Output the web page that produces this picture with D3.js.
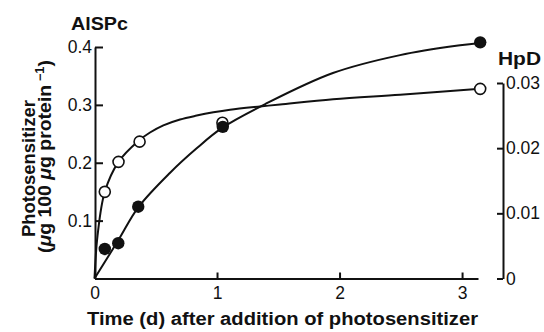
<!DOCTYPE html>
<html>
<head>
<meta charset="utf-8">
<script src="https://d3js.org/d3.v7.min.js"></script>
<style>
  body { margin: 0; background: #fff; }
  svg { display: block; font-family: 'Liberation Sans', Arial, sans-serif; }
  .axis path, .axis line { stroke: #111; stroke-width: 2; }
  .axis text { font-size: 17.5px; fill: #111; }
  .title { font-weight: bold; fill: #111; }
</style>
</head>
<body>
<div id="chart"></div>
<script>
// time after addition (d)
var xTicks = [0, 1, 2, 3];
var leftTicks = [0.1, 0.2, 0.3, 0.4];
var rightTicks = [0, 0.01, 0.02, 0.03];

// AlSPc, filled circles, left axis
var alspcTime = [0.084, 0.194, 0.357, 1.047, 3.148];
var alspcVal  = [0.051, 0.061, 0.124, 0.262, 0.408];
// fitted curve
var alspcFitTime = [0, 0.194, 0.357, 0.613, 0.834, 1.047, 1.39, 1.946, 2.494, 2.984, 3.148];
var alspcFitVal  = [0, 0.066, 0.123, 0.182, 0.225, 0.261, 0.301, 0.355, 0.386, 0.403, 0.407];

// HpD, open circles, right axis
var hpdTime = [0.084, 0.196, 0.368, 1.044, 3.148];
var hpdVal  = [0.0133, 0.0179, 0.0210, 0.0239, 0.0291];
var hpdFitTime = [0, 0.025, 0.084, 0.196, 0.358, 0.453, 0.562, 0.698, 0.834, 0.970, 1.106, 1.351, 1.514, 1.947, 2.494, 3.148];
var hpdFitVal  = [0, 0.0066, 0.0133, 0.0179, 0.0211, 0.0224, 0.0235, 0.0244, 0.0250, 0.0255, 0.0259, 0.0264, 0.0267, 0.0275, 0.0282, 0.0291];

var width = 544, height = 332;

var svg = d3.select("#chart").append("svg")
    .attr("width", width)
    .attr("height", height);

var x = d3.scaleLinear().domain([0, 3.13]).range([94.5, 478]);
var yL = d3.scaleLinear().domain([0, 0.4]).range([278.5, 47]);
var yR = d3.scaleLinear().domain([0, 0.03]).range([278.5, 83]);

// axes
svg.append("g").attr("class", "axis")
    .attr("transform", "translate(0,278.5)")
    .call(d3.axisBottom(x).tickValues(xTicks).tickFormat(d3.format("d"))
        .tickSizeInner(-6).tickSizeOuter(0).tickPadding(8));

svg.append("g").attr("class", "axis")
    .attr("transform", "translate(95,0)")
    .call(d3.axisLeft(yL).tickValues(leftTicks).tickFormat(d3.format(".1f"))
        .tickSizeInner(-8).tickSizeOuter(0).tickPadding(3));

svg.append("g").attr("class", "axis")
    .attr("transform", "translate(503,0)")
    .call(d3.axisRight(yR).tickValues(rightTicks)
        .tickFormat(function(d){ return d === 0 ? "0" : d.toFixed(2); })
        .tickSizeInner(-6).tickSizeOuter(0).tickPadding(3));

svg.selectAll(".axis .domain").attr("fill", "none");

// fitted curves
var hpdLine = d3.line()
    .x(function(d){ return x(d[0]); })
    .y(function(d){ return yR(d[1]); })
    .curve(d3.curveCatmullRom.alpha(0.5));
var alspcLine = d3.line()
    .x(function(d){ return x(d[0]); })
    .y(function(d){ return yL(d[1]); })
    .curve(d3.curveCatmullRom.alpha(0.5));

svg.append("path")
    .datum(d3.zip(hpdFitTime, hpdFitVal))
    .attr("d", hpdLine)
    .attr("fill", "none").attr("stroke", "#111").attr("stroke-width", 2);

svg.append("path")
    .datum(d3.zip(alspcFitTime, alspcFitVal))
    .attr("d", alspcLine)
    .attr("fill", "none").attr("stroke", "#111").attr("stroke-width", 2);

// points: open first so filled sits on top where they overlap
svg.selectAll("circle.hpd")
    .data(d3.zip(hpdTime, hpdVal))
    .enter().append("circle")
    .attr("class", "hpd")
    .attr("cx", function(d){ return x(d[0]); })
    .attr("cy", function(d){ return yR(d[1]); })
    .attr("r", 5.5)
    .attr("fill", "#fff").attr("stroke", "#111").attr("stroke-width", 1.6);

svg.selectAll("circle.alspc")
    .data(d3.zip(alspcTime, alspcVal))
    .enter().append("circle")
    .attr("class", "alspc")
    .attr("cx", function(d){ return x(d[0]); })
    .attr("cy", function(d){ return yL(d[1]); })
    .attr("r", 6.2)
    .attr("fill", "#111");

// titles
svg.append("text").attr("class", "title")
    .attr("x", 71).attr("y", 30)
    .style("font-size", "19px")
    .attr("textLength", 57).attr("lengthAdjust", "spacingAndGlyphs")
    .text("AlSPc");

svg.append("text").attr("class", "title")
    .attr("x", 498).attr("y", 65)
    .style("font-size", "17.5px")
    .attr("textLength", 43).attr("lengthAdjust", "spacingAndGlyphs")
    .text("HpD");

svg.append("text").attr("class", "title")
    .attr("x", 87).attr("y", 325)
    .style("font-size", "18px")
    .attr("textLength", 391).attr("lengthAdjust", "spacingAndGlyphs")
    .text("Time (d) after addition of photosensitizer");

svg.append("text").attr("class", "title")
    .attr("transform", "translate(35,168.5) rotate(-90)")
    .attr("text-anchor", "middle")
    .style("font-size", "18px")
    .attr("textLength", 137).attr("lengthAdjust", "spacingAndGlyphs")
    .text("Photosensitizer");

var t2 = svg.append("text").attr("class", "title")
    .attr("transform", "translate(50.5,156.5) rotate(-90)")
    .attr("text-anchor", "middle")
    .style("font-size", "18px")
    .attr("textLength", 193).attr("lengthAdjust", "spacingAndGlyphs");
t2.append("tspan").text("(");
t2.append("tspan").style("font-style", "italic").text("μ");
t2.append("tspan").text("g 100 ");
t2.append("tspan").style("font-style", "italic").text("μ");
t2.append("tspan").text("g protein");
t2.append("tspan").attr("dy", -7).style("font-size", "12px").text(" −1");
t2.append("tspan").attr("dy", 7).text(")");
</script>
</body>
</html>
